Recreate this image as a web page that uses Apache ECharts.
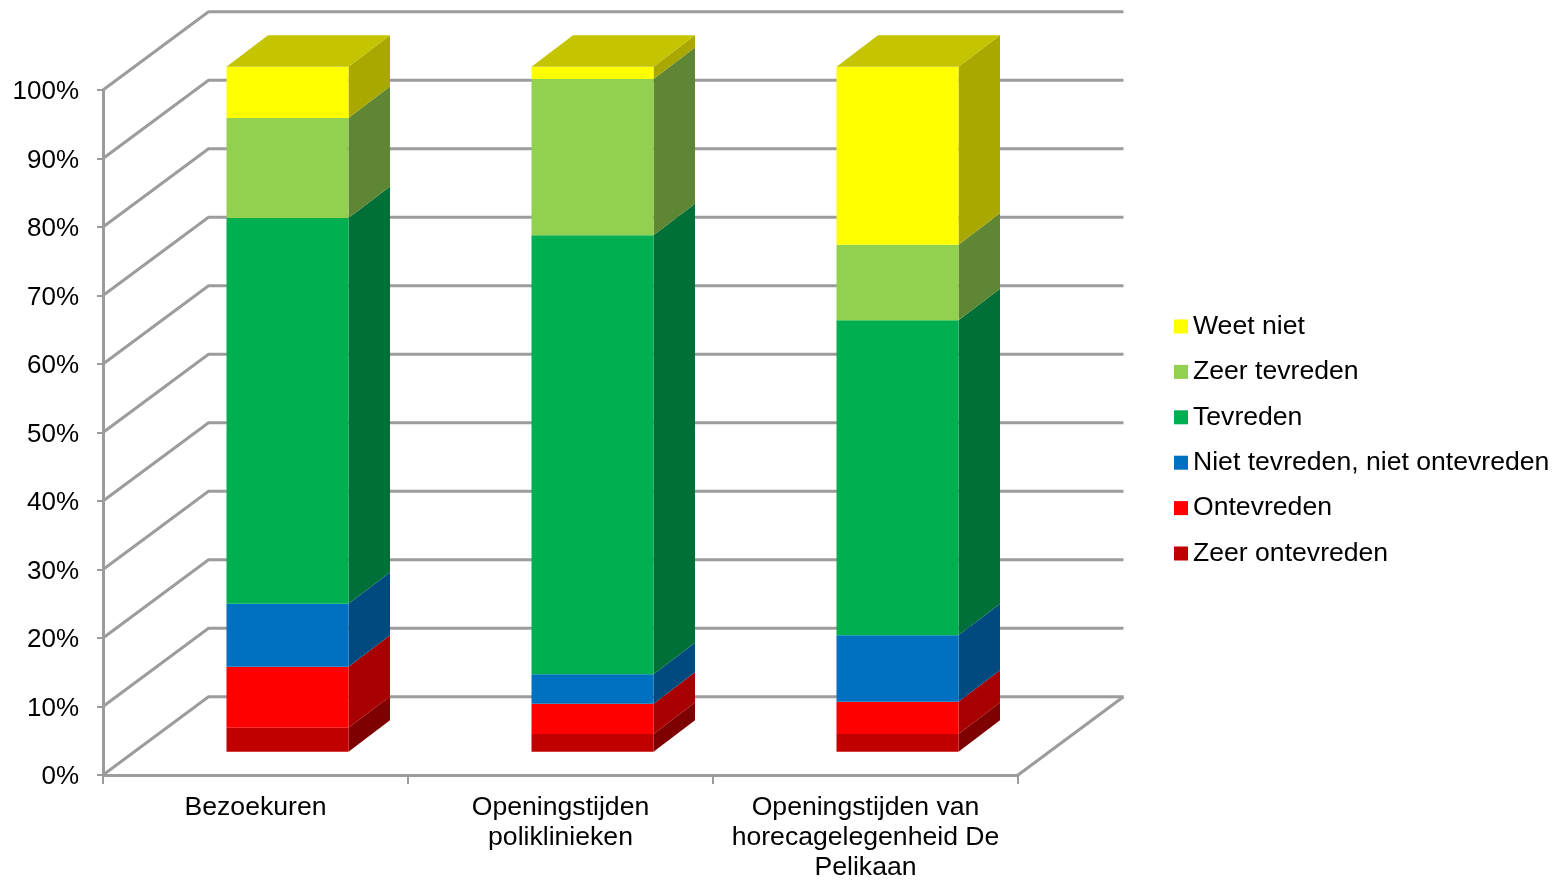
<!DOCTYPE html>
<html><head><meta charset="utf-8">
<style>html,body{margin:0;padding:0;background:#fff}#c{width:1563px;height:880px}</style>
<script src="https://cdn.jsdelivr.net/npm/echarts@6/dist/echarts.min.js"></script>
</head><body><div id="c"></div>
<script>
var categories = ['Bezoekuren', 'Openingstijden\npoliklinieken', 'Openingstijden van\nhorecagelegenheid De\nPelikaan'];
var yTicks = [0, 10, 20, 30, 40, 50, 60, 70, 80, 90, 100];
var zeerOntevreden = [3.5, 2.6, 2.6];
var ontevreden = [8.9, 4.4, 4.7];
var neutraal = [9.2, 4.3, 9.7];
var tevreden = [56.3, 64.1, 46.0];
var zeerTevreden = [14.6, 22.8, 11.0];
var weetNiet = [7.5, 1.8, 26.0];

var seriesNames = ['Zeer ontevreden', 'Ontevreden', 'Niet tevreden, niet ontevreden', 'Tevreden', 'Zeer tevreden', 'Weet niet'];
var seriesValues = [zeerOntevreden, ontevreden, neutraal, tevreden, zeerTevreden, weetNiet];
var frontColors = ['#C00000', '#FF0000', '#0070C0', '#00B050', '#92D050', '#FFFF00'];
var sideColors = ['#7E0000', '#A80000', '#004A80', '#007038', '#5F8634', '#A8A800'];
var capColor = '#C4C400';
var lineColor = '#9C9C9C';
var font = 'Arial, "Liberation Sans", sans-serif';

// projection of the depth axis, in pixels
var wallDX = 105.5, wallDY = -78.3;
var barDX = 32, barDY = -23.3;
var sideDX = 41.5, sideDY = -31.5;
var barFrac = 0.4;

function renderWall(params, api) {
  var cs = params.coordSys;
  var v = api.value(0);
  var y = api.coord([0, v])[1];
  var xl = cs.x, xr = cs.x + cs.width;
  var children = [{
    type: 'polyline',
    shape: { points: [[xl, y], [xl + wallDX, y + wallDY], [xr + wallDX, y + wallDY]] },
    style: { stroke: lineColor, lineWidth: 3, fill: null }
  }];
  if (v === 0) {
    children.push({
      type: 'polyline',
      shape: { points: [[xr + wallDX, y + wallDY], [xr, y]] },
      style: { stroke: lineColor, lineWidth: 3, fill: null }
    });
  }
  return { type: 'group', children: children };
}

function renderBar(params, api) {
  var idx = api.value(0), s = api.value(1), e = api.value(2), k = params.seriesIndex - 1;
  var c0 = api.coord([idx, s]), c1 = api.coord([idx, e]);
  var w = api.size([1, 0])[0] * barFrac;
  var l = c0[0] - w / 2 + barDX, r = l + w;
  var yb = c0[1] + barDY, yt = c1[1] + barDY;
  var children = [
    { type: 'polygon', shape: { points: [[r, yb], [r + sideDX, yb + sideDY], [r + sideDX, yt + sideDY], [r, yt]] },
      style: { fill: sideColors[k] } },
    { type: 'rect', shape: { x: l, y: yt, width: w, height: yb - yt }, style: { fill: frontColors[k] } }
  ];
  if (k === seriesValues.length - 1) {
    children.push({ type: 'polygon', shape: { points: [[l, yt], [l + sideDX, yt + sideDY], [r + sideDX, yt + sideDY], [r, yt]] },
      style: { fill: capColor } });
  }
  return { type: 'group', children: children };
}

var series = [{
  type: 'custom', name: 'wall', silent: true, clip: false,
  renderItem: renderWall,
  encode: { y: 0 },
  data: yTicks.map(function (t) { return [t]; })
}];
seriesNames.forEach(function (name, k) {
  series.push({
    type: 'custom', name: name, clip: false, silent: true,
    renderItem: renderBar,
    itemStyle: { color: frontColors[k] },
    encode: { x: 0, y: [1, 2] },
    data: categories.map(function (_, i) {
      var start = 0;
      for (var j = 0; j < k; j++) start += seriesValues[j][i];
      return [i, start, start + seriesValues[k][i]];
    })
  });
});

var chart = echarts.init(document.getElementById('c'), null, { width: 1563, height: 880, renderer: 'canvas' });
chart.setOption({
  animation: false,
  backgroundColor: '#fff',
  grid: { left: 103, top: 90, width: 915, height: 685, containLabel: false, outerBoundsMode: 'none' },
  legend: {
    orient: 'vertical', left: 1174, top: 313, padding: 0,
    data: seriesNames.slice().reverse(),
    icon: 'rect', itemWidth: 14, itemHeight: 14, itemGap: 18.4,
    selectedMode: false,
    textStyle: { fontFamily: font, fontSize: 26.6, color: '#000', lineHeight: 25 }
  },
  xAxis: {
    type: 'category', data: categories,
    axisLine: { lineStyle: { color: lineColor, width: 3 } },
    axisTick: { show: true, length: 9, lineStyle: { color: lineColor, width: 2 } },
    axisLabel: { fontFamily: font, fontSize: 26.6, color: '#000', lineHeight: 30, margin: 17.5, interval: 0 }
  },
  yAxis: {
    type: 'value', min: 0, max: 100, interval: 10,
    splitLine: { show: false },
    axisLine: { show: true, lineStyle: { color: lineColor, width: 3 } },
    axisTick: { show: true, length: 6, lineStyle: { color: lineColor, width: 2 } },
    axisLabel: {
      color: '#000', margin: 24,
      formatter: function (v) { return '{a|' + v + '%}'; },
      rich: { a: { fontFamily: font, fontSize: 26, color: '#000', padding: [4, 0, 0, 0] } }
    }
  },
  series: series
});
</script></body></html>
